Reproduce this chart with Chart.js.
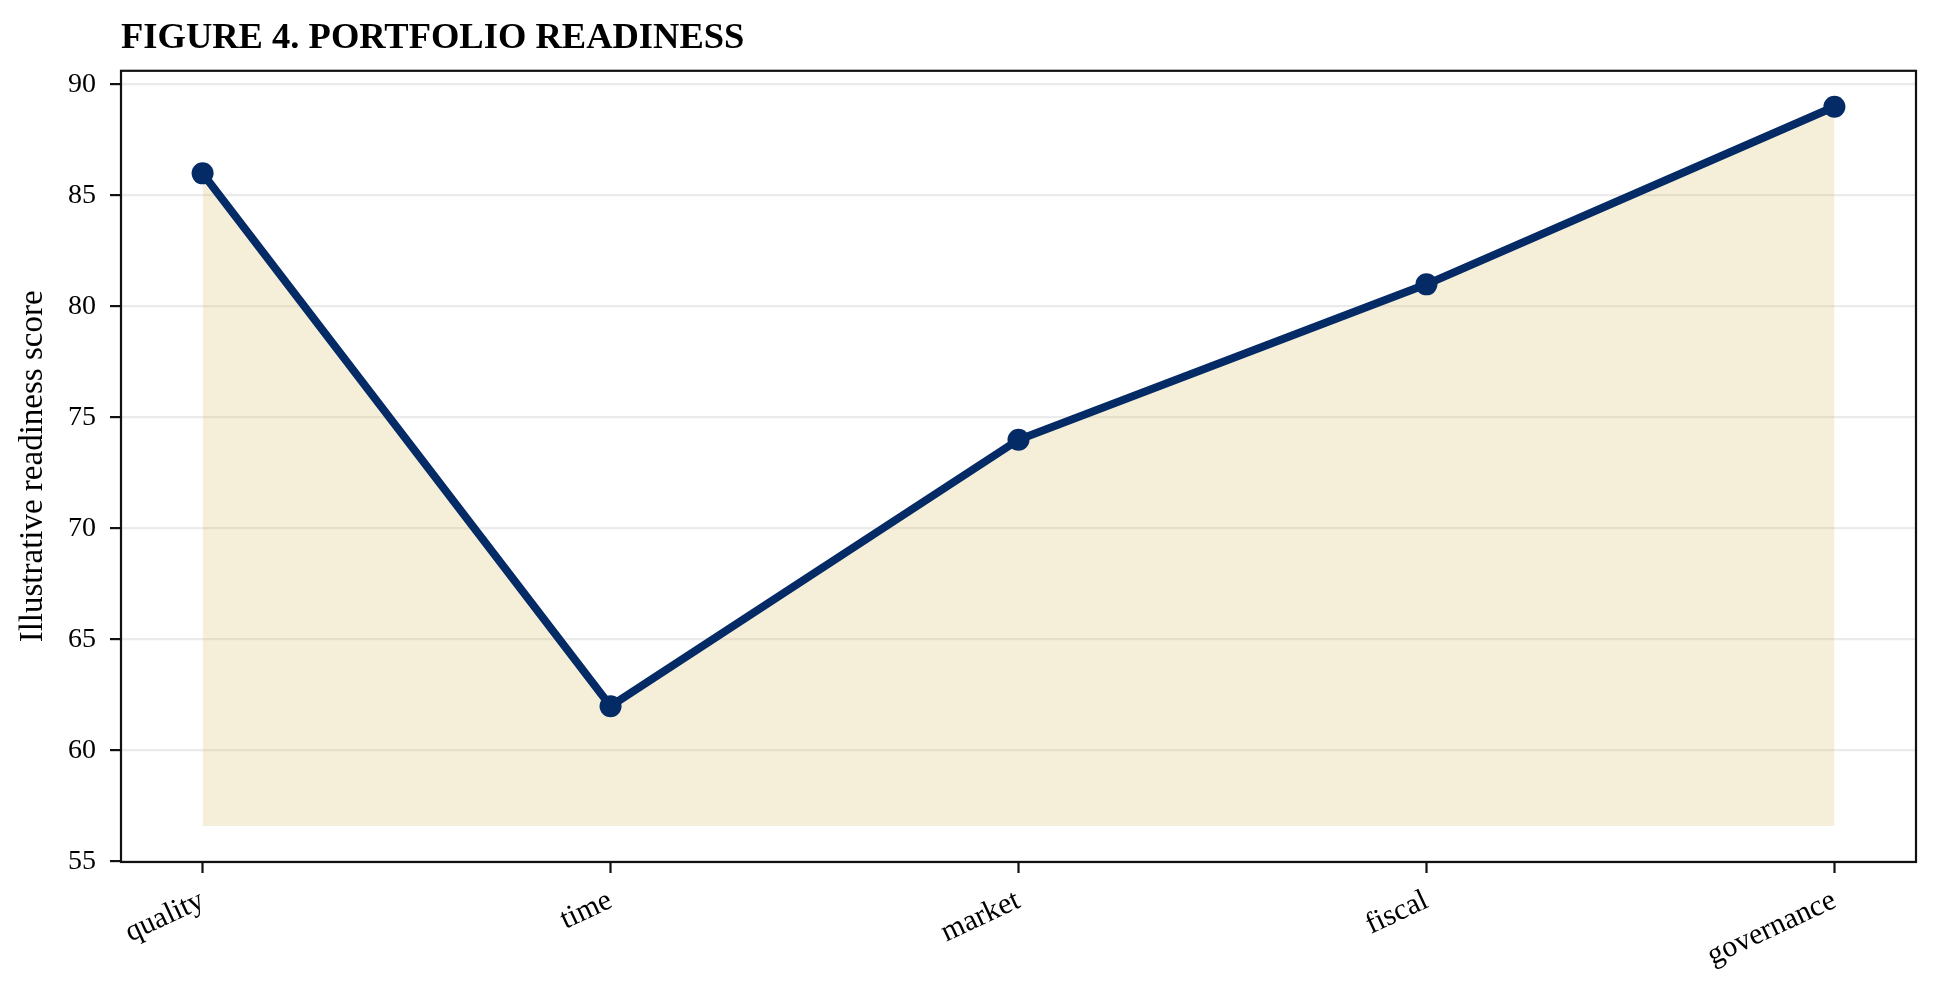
<!DOCTYPE html>
<html>
<head>
<meta charset="utf-8">
<title>Figure 4. Portfolio readiness</title>
<script src="https://cdn.jsdelivr.net/npm/chart.js@4.4.1/dist/chart.umd.min.js"></script>
<style>
  html, body { margin: 0; padding: 0; background: #fff; }
  #wrap { width: 1940px; height: 983px; }
</style>
</head>
<body>
<div id="wrap"><canvas id="chart" width="1940" height="983"></canvas></div>
<script>
"use strict";

// ── data ────────────────────────────────────────────
const categories = ["quality", "time", "market", "fiscal", "governance"];
const scores = [86, 62, 74, 81, 89];
const yTicks = [55, 60, 65, 70, 75, 80, 85, 90];
const fillBase = 56.6;

const NAVY = "#052b66";
const FONT = "'Liberation Serif', 'Times New Roman', serif";

// full box around the plot area (matplotlib spines)
const frame = {
  id: "frame",
  afterDraw(chart) {
    const a = chart.chartArea;
    const g = chart.ctx;
    g.save();
    g.strokeStyle = "#111";
    g.lineWidth = 2.2;
    g.strokeRect(a.left, a.top, a.right - a.left, a.bottom - a.top);
    g.restore();
  },
};

const points = scores.map((v, i) => ({ x: i, y: v }));

new Chart(document.getElementById("chart"), {
  type: "line",
  data: {
    datasets: [
      {
        label: "Readiness",
        data: points,
        borderColor: NAVY,
        borderWidth: 8,
        backgroundColor: "rgba(201, 162, 39, 0.18)",
        fill: { value: fillBase },
        pointRadius: 11,
        pointHoverRadius: 11,
        pointBackgroundColor: NAVY,
        pointBorderWidth: 0,
        tension: 0,
      },
    ],
  },
  options: {
    responsive: false,
    devicePixelRatio: 1,
    animation: false,
    layout: { padding: { left: 0, right: 24, top: 0, bottom: 0 } },
    plugins: {
      legend: { display: false },
      tooltip: { enabled: false },
      title: {
        display: true,
        text: "FIGURE 4. PORTFOLIO READINESS",
        align: "start",
        fullSize: false,
        color: "#000",
        font: { family: FONT, size: 36.5, weight: "bold" },
        padding: { top: 17, bottom: 10 },
      },
    },
    scales: {
      x: {
        type: "linear",
        min: -0.2,
        max: 4.2,
        afterBuildTicks: (s) => { s.ticks = categories.map((c, i) => ({ value: i })); },
        afterFit: (s) => { s.height = 121; },
        ticks: {
          color: "#000",
          font: { family: FONT, size: 30 },
          minRotation: 25,
          maxRotation: 25,
          padding: 10,
          callback: (v) => categories[v],
        },
        grid: { drawOnChartArea: false, tickColor: "#111", tickLength: 11, tickWidth: 2.2 },
        border: { display: false },
      },
      y: {
        min: 54.98,
        max: 90.62,
        afterBuildTicks: (s) => { s.ticks = yTicks.map((v) => ({ value: v })); },
        afterFit: (s) => { s.width = 121; },
        ticks: {
          color: "#000",
          font: { family: FONT, size: 28 },
          padding: 14,
        },
        grid: { color: "rgba(0,0,0,0.08)", lineWidth: 2.2, tickColor: "#111", tickLength: 11, tickWidth: 2.2 },
        border: { display: false },
        title: {
          display: true,
          text: "Illustrative readiness score",
          color: "#000",
          font: { family: FONT, size: 33 },
          padding: { top: 14, bottom: 0 },
        },
      },
    },
  },
  plugins: [frame],
});
</script>
</body>
</html>
